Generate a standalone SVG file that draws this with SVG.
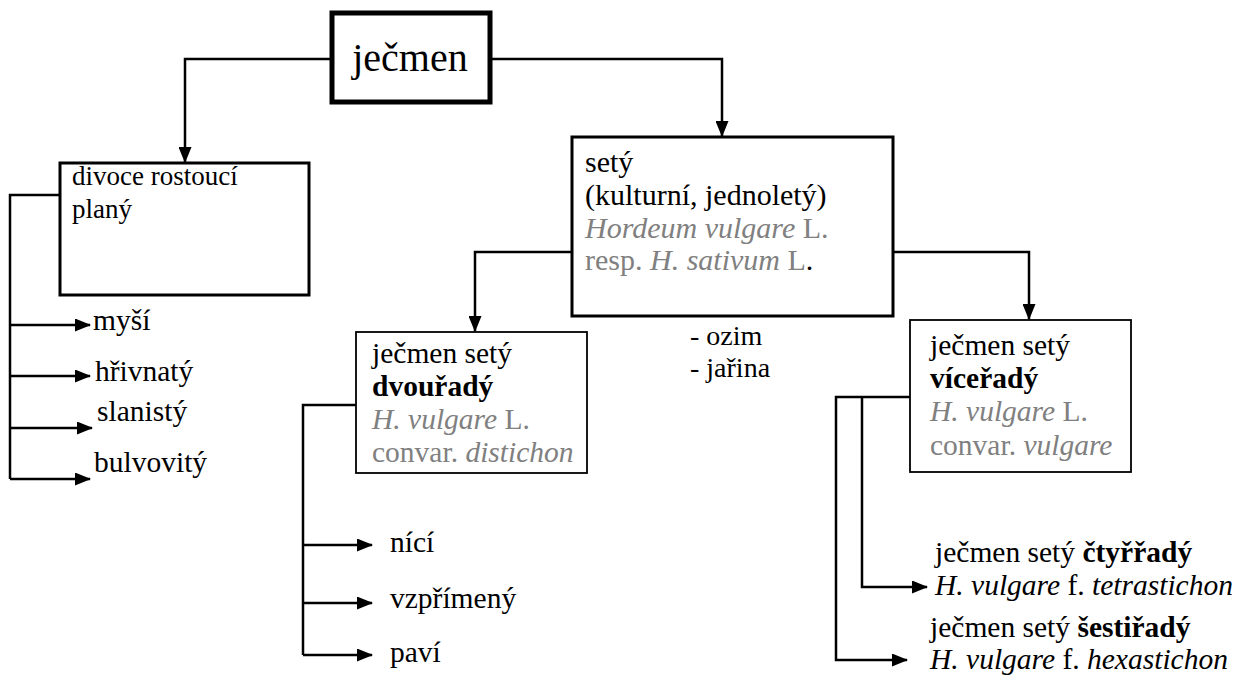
<svg xmlns="http://www.w3.org/2000/svg" width="1237" height="675" viewBox="0 0 1237 675">
<style>
text{font-family:"Liberation Serif","Times New Roman",serif;font-size:29.5px;fill:#000}
.g{fill:#808080}
.i{font-style:italic}
.n{font-style:normal}
.b{font-weight:bold}
.s{font-size:28px}
.box{fill:#fff;stroke:#000}
.c{fill:none;stroke:#000;stroke-width:2.5}
</style>
<defs>
<marker id="ah" markerUnits="userSpaceOnUse" markerWidth="16" markerHeight="13" refX="15" refY="6.5" orient="auto">
<path d="M0,0 L16,6.5 L0,13 z" fill="#000"/>
</marker>
</defs>
<rect width="1237" height="675" fill="#fff"/>
<g id="connectors">
<path class="c" d="M332,59 H185 V162" marker-end="url(#ah)"/>
<path class="c" d="M490,59 H722 V136" marker-end="url(#ah)"/>
<path class="c" d="M60,195 H10 V479"/>
<path class="c" d="M10,325 H90" marker-end="url(#ah)"/>
<path class="c" d="M10,376 H90" marker-end="url(#ah)"/>
<path class="c" d="M10,428 H92" marker-end="url(#ah)"/>
<path class="c" d="M10,479 H90" marker-end="url(#ah)"/>
<path class="c" d="M572,252 H475 V331" marker-end="url(#ah)"/>
<path class="c" d="M893,252 H1029 V319" marker-end="url(#ah)"/>
<path class="c" d="M356,405 H303 V655"/>
<path class="c" d="M303,545 H372" marker-end="url(#ah)"/>
<path class="c" d="M303,603 H372" marker-end="url(#ah)"/>
<path class="c" d="M303,655 H372" marker-end="url(#ah)"/>
<path class="c" d="M910,397 H836 V660 H907" marker-end="url(#ah)"/>
<path class="c" d="M862,397 V587 H927" marker-end="url(#ah)"/>
</g>
<g id="root">
<rect class="box" x="332" y="13" width="158" height="89" stroke-width="5"/>
<text x="410" y="71" text-anchor="middle" style="font-size:40px">ječmen</text>
</g>
<g id="divoce">
<rect class="box" x="60" y="163" width="249" height="132" stroke-width="3"/>
<text x="72" y="185" style="font-size:27px">divoce rostoucí</text>
<text x="72" y="218" style="font-size:27px">planý</text>
</g>
<g id="sety">
<rect class="box" x="572" y="137" width="321" height="179" stroke-width="3"/>
<text x="585" y="172" style="font-size:30px">setý</text>
<text x="585" y="205" style="font-size:30px">(kulturní, jednoletý)</text>
<text x="585" y="238" class="g" style="font-size:30px"><tspan class="i">Hordeum vulgare</tspan> L.</text>
<text x="585" y="270" class="g" style="font-size:30px">resp. <tspan class="i">H. sativum</tspan> L<tspan fill="#000">.</tspan></text>
</g>
<g id="mysi"><text x="93" y="330">myší</text></g>
<g id="hrivnaty"><text x="95" y="381">hřivnatý</text></g>
<g id="slanisty"><text x="97" y="421">slanistý</text></g>
<g id="bulvovity"><text x="94" y="472">bulvovitý</text></g>
<g id="dvouradny">
<rect class="box" x="356" y="332" width="231" height="141" stroke-width="1.8"/>
<text x="372" y="363">ječmen setý</text>
<text x="372" y="396" class="b">dvouřadý</text>
<text x="372" y="429" class="g"><tspan class="i">H. vulgare</tspan> L.</text>
<text x="372" y="462" class="g">convar. <tspan class="i">distichon</tspan></text>
</g>
<g id="ozim">
<text x="690" y="345" class="s">- ozim</text>
<text x="690" y="377" class="s">- jařina</text>
</g>
<g id="viceradny">
<rect class="box" x="910" y="320" width="221" height="152" stroke-width="1.8"/>
<text x="930" y="355">ječmen setý</text>
<text x="930" y="388" class="b">víceřadý</text>
<text x="930" y="421" class="g"><tspan class="i">H. vulgare</tspan> L.</text>
<text x="930" y="455" class="g">convar. <tspan class="i">vulgare</tspan></text>
</g>
<g id="nici"><text x="390" y="552">nící</text></g>
<g id="vzprimeny"><text x="390" y="608">vzpřímený</text></g>
<g id="pavi"><text x="390" y="662">paví</text></g>
<g id="ctyrradny">
<text x="935" y="562">ječmen setý <tspan class="b">čtyřřadý</tspan></text>
<text x="935" y="595" class="i">H. vulgare <tspan class="n">f.</tspan> tetrastichon</text>
</g>
<g id="sestiradny">
<text x="930" y="637">ječmen setý <tspan class="b">šestiřadý</tspan></text>
<text x="930" y="669" class="i">H. vulgare <tspan class="n">f.</tspan> hexastichon</text>
</g>
</svg>
